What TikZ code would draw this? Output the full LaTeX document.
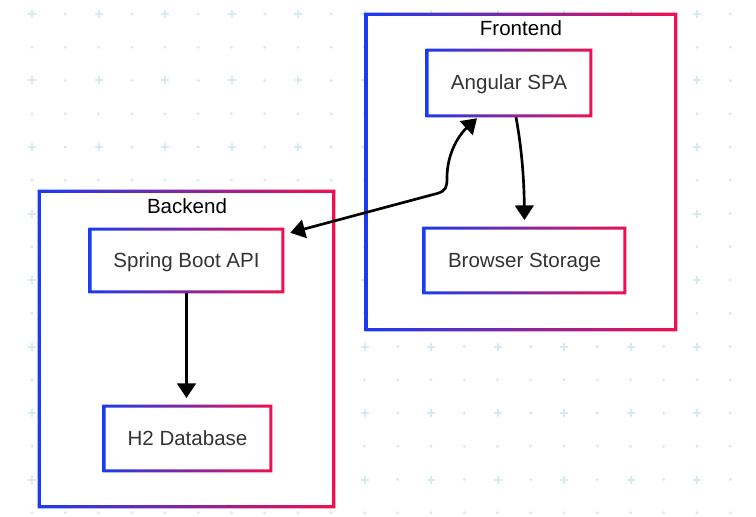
\documentclass[tikz,border=0pt]{standalone}
\usepackage{fontspec}
\setmainfont{Liberation Sans}
\usetikzlibrary{arrows.meta}
\definecolor{gblue}{HTML}{1A3CF0}
\definecolor{gred}{HTML}{F0104F}
\definecolor{gridc}{HTML}{D5EBEF}
\definecolor{txt}{HTML}{333333}
%% gradient frame round a named node
\newcommand{\gradframe}[2]{%
\shade[left color=gblue,right color=gred,even odd rule]
(#1.south west) rectangle (#1.north east)
([shift={(#2,-#2)}]#1.south west) rectangle ([shift={(-#2,#2)}]#1.north east);}
\begin{document}
\begin{tikzpicture}[
x=0.75pt,y=-0.75pt,
grp/.style={%
fill=white,
inner sep=0pt
},
comp/.style={%
fill=white,
inner sep=0pt,
text=txt,
text height=1.1em,
text depth=0.1em,
font=\fontsize{15.4}{18}\selectfont
},
mtip/.tip={Triangle[width=14pt,length=11pt]},
link/.style={line width=2pt,-mtip}
]
\fill[white](0,0)rectangle(756,517);
\useasboundingbox(0,0)rectangle(756,517);
%% background grid
\foreach \i in {-1,...,21}{
\foreach \j in {0,...,15}{
\pgfmathsetmacro\gx{32+33.25*\i}
\pgfmathsetmacro\gy{14+33.25*\j}
\ifodd\i\relax
\fill[gridc](\gx,\gy)circle(1.2pt);
\else\ifodd\j\relax
\fill[gridc](\gx,\gy)circle(1.2pt);
\else
\draw[gridc,line width=1.5pt](\gx-4,\gy)--(\gx+4,\gy)(\gx,\gy-4)--(\gx,\gy+4);
\fi\fi
}}
%% Clusters
\node[grp,minimum width=222.75pt,minimum height=238.5pt]at(186.5,349)(back){};
\node[grp,minimum width=234pt,minimum height=238.5pt]at(521,172)(front){};
\gradframe{back}{3.2}
\gradframe{front}{3.2}
\node[font=\fontsize{15.4}{18}\selectfont]at(187,206)(backl){Backend};
\node[font=\fontsize{15.4}{18}\selectfont]at(521,28)(frontl){Frontend};
%% Backend nodes
\node[comp,minimum width=146.25pt,minimum height=48.75pt]at(186.5,260.5)(api){Spring Boot API};
\node[comp,minimum width=126.75pt,minimum height=50.25pt]at(187.5,438.5)(db){H2 Database};
%% Frontend nodes
\node[comp,minimum width=124.5pt,minimum height=51pt]at(509,83)(spa){Angular SPA};
\node[comp,minimum width=152.25pt,minimum height=50.25pt]at(524.5,260.5)(store){Browser Storage};
\gradframe{api}{2.8}
\gradframe{db}{2.8}
\gradframe{spa}{2.8}
\gradframe{store}{2.8}
%% Links
\draw[link](api.south)--([yshift=5pt]api.south|-db.north);
\draw[link]([shift={(7,0)}]spa.south)..controls(522,150)and(524,180)..([yshift=5pt]store.north);
\draw[link,mtip-mtip]([shift={(6,5)}]api.north east)--(437,193.5)
..controls(446,191)and(447,187)..(447,178)
..controls(447,152)and(460,134)..([shift={(-32,1)}]spa.south);
\end{tikzpicture}
\end{document}
